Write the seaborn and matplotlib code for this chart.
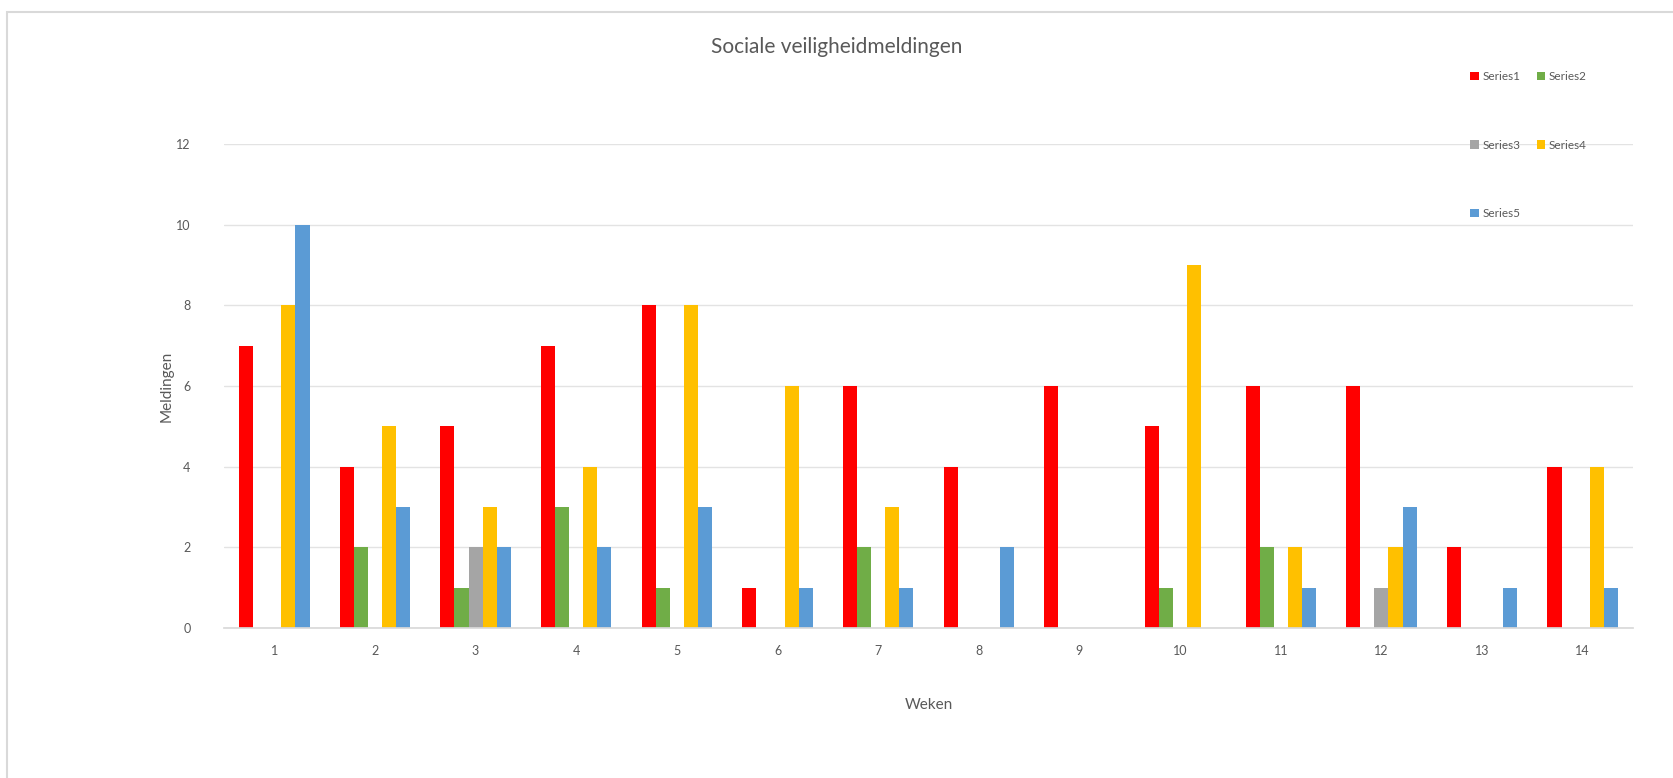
import matplotlib
matplotlib.use("Agg")
import matplotlib.pyplot as plt
import pandas as pd
import seaborn as sns
from matplotlib.patches import Rectangle

WEEKS = [str(w) for w in range(1, 15)]
SERIES = ["Series1", "Series2", "Series3", "Series4", "Series5"]
SERIES1 = [7, 4, 5, 7, 8, 1, 6, 4, 6, 5, 6, 6, 2, 4]
SERIES2 = [0, 2, 1, 3, 1, 0, 2, 0, 0, 1, 2, 0, 0, 0]
SERIES3 = [0, 0, 2, 0, 0, 0, 0, 0, 0, 0, 0, 1, 0, 0]
SERIES4 = [8, 5, 3, 4, 8, 6, 3, 0, 0, 9, 2, 2, 0, 4]
SERIES5 = [10, 3, 2, 2, 3, 1, 1, 2, 0, 0, 1, 3, 1, 1]
COLORS = ["#FF0000", "#70AD47", "#A5A5A5", "#FFC000", "#5B9BD5"]

TEXT = "#595959"


def build_frame():
    rows = []
    for name, vals in zip(SERIES, [SERIES1, SERIES2, SERIES3, SERIES4, SERIES5]):
        for week, v in zip(WEEKS, vals):
            rows.append({"Weken": week, "Series": name, "Meldingen": v})
    return pd.DataFrame(rows)


def main():
    sns.set_theme(style="white")
    plt.rcParams["font.family"] = ["Lato", "DejaVu Sans"]

    df = build_frame()
    fig = plt.figure(figsize=(16.74, 7.78), dpi=100)
    ax = fig.add_axes([0.1338, 0.1928, 0.8417, 0.6221])

    sns.barplot(data=df, x="Weken", y="Meldingen", hue="Series",
                hue_order=SERIES, palette=COLORS, order=WEEKS, saturation=1,
                width=0.7, gap=0, linewidth=0, ax=ax, legend=True)

    ax.set_ylim(0, 12)
    ax.set_yticks(range(0, 13, 2))
    ax.yaxis.grid(True, color="#E3E3E3", linewidth=1)
    ax.set_axisbelow(True)
    for s in ["top", "right", "left"]:
        ax.spines[s].set_visible(False)
    ax.spines["bottom"].set_color("#D9D9D9")
    ax.tick_params(axis="both", length=0, labelsize=9, colors=TEXT, pad=12)
    ax.tick_params(axis="y", pad=24)

    ax.set_xlabel("Weken", fontsize=11, color=TEXT, labelpad=30)
    ax.set_ylabel("Meldingen", fontsize=11, color=TEXT, labelpad=2)

    fig.text(0.5, 0.94, "Sociale veiligheidmeldingen", ha="center", va="center",
             fontsize=15, color=TEXT)

    # row-wise legend order (matplotlib fills columns first)
    handles, labels = ax.get_legend_handles_labels()
    idx = [0, 2, 4, 1, 3]
    ax.get_legend().remove()
    fig.legend([handles[i] for i in idx], [labels[i] for i in idx], ncol=2,
               loc="upper left", bbox_to_anchor=(0.872, 0.922), frameon=False,
               fontsize=8.5, labelcolor=TEXT, handlelength=0.7,
               handleheight=0.7, handletextpad=0.3, columnspacing=1.4,
               labelspacing=4.85)

    # outer chart border
    fig.patches.append(Rectangle((7 / 1674, -0.05), 1.1, (778 - 12) / 778 + 0.05,
                                 transform=fig.transFigure, fill=False,
                                 edgecolor="#D9D9D9", linewidth=1.5))

    fig.savefig("out.png", dpi=100)


if __name__ == "__main__":
    main()
